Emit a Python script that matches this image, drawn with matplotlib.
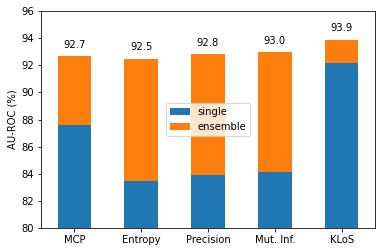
import numpy as np
import matplotlib
matplotlib.use('Agg')
import matplotlib.pyplot as plt

methods = ['MCP', 'Entropy', 'Precision', 'Mut. Inf.', 'KLoS']
single = [87.6, 83.5, 83.9, 84.1, 92.2]
ensemble = [92.7, 92.5, 92.8, 93.0, 93.9]

fig = plt.figure(figsize=(382 / 72, 252 / 72), dpi=72)
ax = fig.add_axes([0.107, 0.095, 0.875, 0.861])

x = np.arange(len(methods))
ax.bar(x, ensemble, width=0.5, color='#ff7f0e', label='ensemble', zorder=1)
ax.bar(x, single, width=0.5, color='#1f77b4', label='single', zorder=2)

for xi, v in zip(x, ensemble):
    ax.text(xi, v + 0.45, '%.1f' % v, ha='center', va='bottom', fontsize=10)

ax.set_xlim(-0.5, 4.5)
ax.set_ylim(80, 96)
ax.set_xticks(x)
ax.set_xticklabels(methods)
ax.set_ylabel('AU-ROC (%)')

handles, labels = ax.get_legend_handles_labels()
ax.legend(handles[::-1], labels[::-1], loc='center')

plt.savefig('out.png', dpi=72)
